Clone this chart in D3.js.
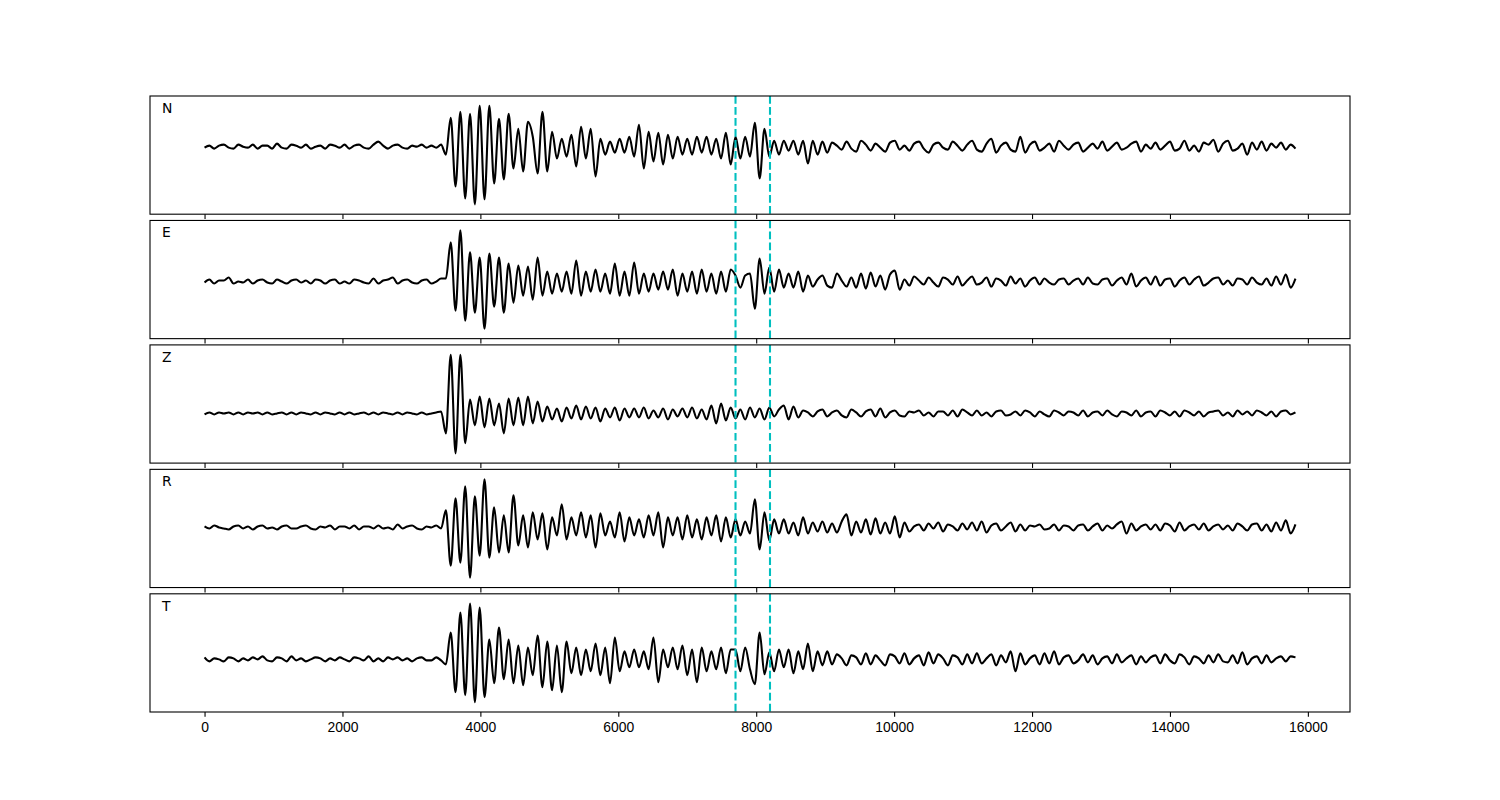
<!DOCTYPE html>
<html>
<head>
<meta charset="utf-8">
<script src="https://d3js.org/d3.v7.min.js"></script>
<style>
  body { margin: 0; background: #fff; }
  svg { font-family: "DejaVu Sans", sans-serif; }
  .tick text { font-size: 13.9px; fill: #000; }
</style>
</head>
<body>
<script>
// seismogram components, one sample every 70 units (amplitude, arbitrary units)
var sampleStep = 70;
var components = ['N', 'E', 'Z', 'R', 'T'];
var xTicks = [0, 2000, 4000, 6000, 8000, 10000, 12000, 14000, 16000];
var markers = [7700, 8200];

var traceN = [
  -1, 1, -2, 1, 2, -1, -2, 2, 0, -1,
  2, -2, 1, 1, -2, 3, -1, -2, 2, 1,
  -1, 2, -2, 0, 1, -2, 2, 1, -1, 2,
  -2, 1, 2, -1, -2, 2, 5, 1, -2, 1,
  2, -1, -2, 1, 0, 2, -1, 1, -1, 2,
  -8, 29, -40, 35, -52, 33, -58, 41, -53, 41,
  -37, 28, -33, 33, -22, 18, -25, 25, 10, -27,
  35, -25, 15, -12, 8, -10, 12, -20, 20, -12,
  18, -30, 8, -8, 5, -6, 8, -6, 10, -10,
  22, -22, 15, -15, 14, -18, 12, -12, 10, -8,
  8, -8, 10, -6, 10, -8, 8, -12, 14, -18,
  10, -12, 10, -10, 24, -32, 18, -10, 6, -8,
  6, -4, 6, -8, 6, -17, 6, -8, 5, -6,
  4, 1, -3, 5, -2, -5, 6, 2, -4, 3,
  -1, -5, 4, 6, -3, 1, -4, 3, 5, -2,
  -6, 2, 4, -1, -3, 5, 1, -4, 2, 6,
  -3, -5, 3, 8, -6, 1, 4, -3, -5, 10,
  -6, 2, 5, -4, -1, 3, -5, 6, 1, -3,
  2, 4, -5, -1, 3, -2, 5, -4, 0, 4,
  -3, -1, 3, 5, -5, 2, -2, 4, -3, 1,
  5, -4, -2, 6, -4, 1, -5, 4, 2, 7,
  -5, 3, 6, -4, -2, 3, -8, 4, -3, 5,
  -4, 3, -1, 4, -3, 2, -2
];

var traceE = [
  -1, 2, -2, 1, 1, 4, -2, 0, -1, 2,
  -2, 1, 2, -1, -2, 2, 0, -2, 1, 2,
  -1, 1, -2, 2, 1, -2, 1, 2, -2, 0,
  -2, 2, 1, -1, -2, 3, -2, 1, 2, 4,
  -2, 1, 2, -1, -2, 1, 2, -2, 0, 3,
  3, 39, -29, 51, -39, 29, -31, 24, -47, 28,
  -25, 24, -31, 18, -21, 16, -14, 15, -18, 24,
  -14, 10, -12, 8, -10, 10, -12, 21, -14, 10,
  -10, 12, -10, 8, -12, 18, -14, 10, -14, 19,
  -12, 8, -10, 8, -8, 10, -8, 12, -14, 8,
  -10, 10, -12, 12, -10, 8, -12, 10, -10, 12,
  6, -6, 6, 8, -27, 23, -12, 14, -10, 12,
  -6, 8, -6, 10, -10, 6, -5, 2, 6, -4,
  -6, 8, 1, -5, 4, -6, 8, -7, 9, -5,
  6, -8, 7, 11, -8, 2, -4, 5, 1, -3,
  4, -1, -5, 4, 2, -3, 5, -4, 1, 5,
  -3, -1, 4, -5, 3, 1, -4, 5, -2, 3,
  -5, 1, 4, -3, 3, -1, -3, 2, 3, -3,
  1, 3, -3, 4, -2, -3, 2, 3, -4, 1,
  4, -3, 8, -5, 1, 4, -3, 5, -4, 2,
  3, -5, 1, 4, -3, 2, 5, -4, -1, 3,
  4, -3, 1, -4, 3, 2, -3, 4, -1, -3,
  3, -4, 5, -3, 7, -6, 3
];

var traceZ = [
  -1, 1, -1, 1, 0, 1, -1, 1, -1, 1,
  0, 1, -1, 1, -1, 0, 1, -1, 1, -1,
  1, 0, -1, 1, -1, 1, 0, -1, 1, -1,
  1, -1, 0, 1, -1, 1, -1, 1, 0, -1,
  1, -1, 1, 0, -1, 1, -1, 0, 1, 2,
  -20, 59, -40, 59, -30, 14, -12, 17, -14, 15,
  -12, 10, -20, 15, -12, 16, -12, 17, -10, 12,
  -8, 7, -6, 5, -8, 6, -5, 8, -6, 7,
  -5, 6, -8, 5, -4, 6, -7, 5, -4, 5,
  -4, 6, -5, 3, -4, 5, -6, 4, -3, 5,
  -4, 6, -5, 4, -6, 8, -10, 10, -7, 6,
  -5, 4, -6, 6, -4, 5, -6, 6, -3, 4,
  8, -6, 7, -4, 3, 1, -3, 2, 4, -3,
  1, 3, -2, -4, 4, 1, -3, 2, 4, -3,
  5, -4, 1, 3, -2, -3, 2, 1, 3, -2,
  1, -3, 2, 2, -2, 3, -3, 4, 1, -2,
  3, -2, 1, -3, 2, 3, -2, -1, 2, -2,
  3, 1, -3, 2, -1, -3, 3, 1, -2, 2,
  1, -2, 3, -3, 1, 2, -2, 3, -1, -3,
  2, 1, -2, 3, -3, 1, 2, -3, 3, 1,
  -2, 2, -3, 3, 1, -2, 2, -3, 1, 2,
  3, -2, 1, -3, 3, -1, 2, -2, 3, 1,
  -2, 2, -3, 2, 3, -1, 1
];

var traceR = [
  1, -1, 2, 0, -1, -2, 1, 2, -1, 1,
  -2, 1, 2, -1, 0, -2, 1, 2, -1, -1,
  1, 2, -1, -2, 1, 0, 2, -2, 1, 1,
  -1, 2, -2, 1, 1, -1, 2, -1, 0, -2,
  3, -1, 1, 2, -1, -2, 1, 0, 2, -1,
  17, -38, 29, -35, 41, -50, 31, -28, 48, -30,
  20, -25, 12, -25, 32, -18, 12, -20, 15, -12,
  14, -22, 10, -8, 23, -12, 10, -8, 15, -10,
  12, -20, 14, -8, 6, -10, 15, -14, 10, -8,
  8, -10, 12, -8, 15, -20, 10, -8, 10, -12,
  12, -10, 8, -12, 10, -8, 12, -14, 10, -10,
  8, -8, 6, -6, 28, -22, 15, -13, 8, -6,
  8, -6, 5, -8, 10, -6, 5, -4, 6, -5,
  4, -5, 6, 13, -8, 6, -5, 8, -7, 9,
  -6, 5, -6, 11, -10, 5, -4, 1, 3, -3,
  4, -1, 5, -4, 3, 1, -3, 4, -2, 5,
  -3, 6, -5, 2, 4, -3, 1, 5, -4, 3,
  -3, 2, 1, 3, -2, -1, 3, -3, 2, 1,
  -3, 2, 3, -3, 1, 4, -3, 2, -1, 3,
  6, -6, 4, -3, 1, 3, -2, 3, -3, 4,
  2, -4, 5, -3, 1, 3, -2, 4, -3, 1,
  3, -2, 2, -3, 4, 1, -3, 3, 4, -3,
  3, -4, 5, -3, 7, -6, 3
];

var traceT = [
  2, -2, 1, 0, -2, 2, 1, -2, 1, -1,
  2, 0, 3, -1, -2, 2, 1, -2, 3, -1,
  1, -2, 0, 2, 1, -2, 1, -1, 2, 0,
  -2, 2, 1, -1, 3, -2, 1, -2, 2, 0,
  2, -1, 1, -2, 1, 2, -1, -1, 2, -1,
  -5, 27, -33, 47, -36, 56, -43, 52, -38, 20,
  -24, 32, -20, 20, -24, 14, -26, 12, -16, 24,
  -28, 18, -31, 14, -33, 18, -14, 12, -16, 10,
  -12, 16, -16, 12, -24, 22, -12, 8, -8, 10,
  -8, 8, -10, 22, -23, 10, -8, 12, -10, 14,
  -16, 10, -23, 12, -12, 8, -10, 12, -14, 10,
  10, -12, 12, -10, -25, 27, -15, 7, -12, 10,
  -8, 10, -14, 8, -10, 16, -12, 8, -6, 8,
  -5, 5, 1, -6, 4, 2, -5, 6, -5, 4,
  -1, -6, 5, 3, -4, 6, -5, 1, 4, -6,
  7, -4, 5, 1, -6, 4, 2, -5, 5, -4,
  6, -4, 1, 5, -6, 4, -3, 8, -12, 6,
  -5, 1, 4, -5, 6, -4, 8, -5, 2, 4,
  -4, -1, 5, -3, 4, -5, 1, 3, -4, 5,
  -3, 1, 4, -5, 3, -3, 2, 4, -4, 5,
  -1, -4, 5, 2, -5, 3, 1, -4, 4, -3,
  5, -2, -3, 4, -4, 7, -5, 1, 3, -4,
  4, -3, 1, 3, -2, 3, 2
];

var traces = [traceN, traceE, traceZ, traceR, traceT];

var W = 1500, H = 800;
var margin = { top: 96, right: 150, bottom: 88, left: 150 };
var plotW = W - margin.left - margin.right;
var plotH = H - margin.top - margin.bottom;
var hspace = 0.053;
var panelH = plotH / (components.length + (components.length - 1) * hspace);
var gap = panelH * hspace;

var svg = d3.select('body').append('svg')
    .attr('width', W)
    .attr('height', H);

// shared x scale (matplotlib-like 5% margins)
var tMax = d3.max(traces, function(tr) { return (tr.length - 1) * sampleStep; });
var xPad = tMax * 0.05;
var x = d3.scaleLinear()
    .domain([-xPad, tMax + xPad])
    .range([0, plotW]);

components.forEach(function(name, k) {
    var data = traces[k];
    var top = margin.top + k * (panelH + gap);
    var g = svg.append('g')
        .attr('transform', 'translate(' + margin.left + ',' + top + ')');

    var ext = d3.extent(data);
    var pad = (ext[1] - ext[0]) * 0.1;
    var y = d3.scaleLinear()
        .domain([ext[0] - pad, ext[1] + pad])
        .range([panelH, 0]);

    var line = d3.line()
        .curve(d3.curveMonotoneX)
        .x(function(d, i) { return x(i * sampleStep); })
        .y(function(d) { return y(d); });

    g.append('path')
        .datum(data)
        .attr('d', line)
        .attr('fill', 'none')
        .attr('stroke', '#000')
        .attr('stroke-width', 2.08)
        .attr('stroke-linejoin', 'round');

    g.selectAll('.marker')
        .data(markers)
        .enter().append('line')
            .attr('class', 'marker')
            .attr('x1', function(d) { return x(d); })
            .attr('x2', function(d) { return x(d); })
            .attr('y1', 0)
            .attr('y2', panelH)
            .attr('stroke', '#00bfbf')
            .attr('stroke-width', 2.08)
            .attr('stroke-dasharray', '7.7,3.3');

    var axis = d3.axisBottom(x)
        .tickValues(xTicks)
        .tickSize(4.86)
        .tickPadding(4.86)
        .tickSizeOuter(0)
        .tickFormat(k === components.length - 1 ? d3.format('d') : function() { return ''; });

    var ax = g.append('g')
        .attr('transform', 'translate(0,' + panelH + ')')
        .call(axis);
    ax.select('.domain').remove();
    ax.selectAll('.tick line').attr('stroke', '#000').attr('stroke-width', 1.1);

    g.append('rect')
        .attr('x', 0)
        .attr('y', 0)
        .attr('width', plotW)
        .attr('height', panelH)
        .attr('fill', 'none')
        .attr('stroke', '#000')
        .attr('stroke-width', 1.1);

    g.append('text')
        .attr('x', 12)
        .attr('y', 17)
        .attr('fill', '#000')
        .style('font-size', '13.9px')
        .text(name);
});
</script>
</body>
</html>
